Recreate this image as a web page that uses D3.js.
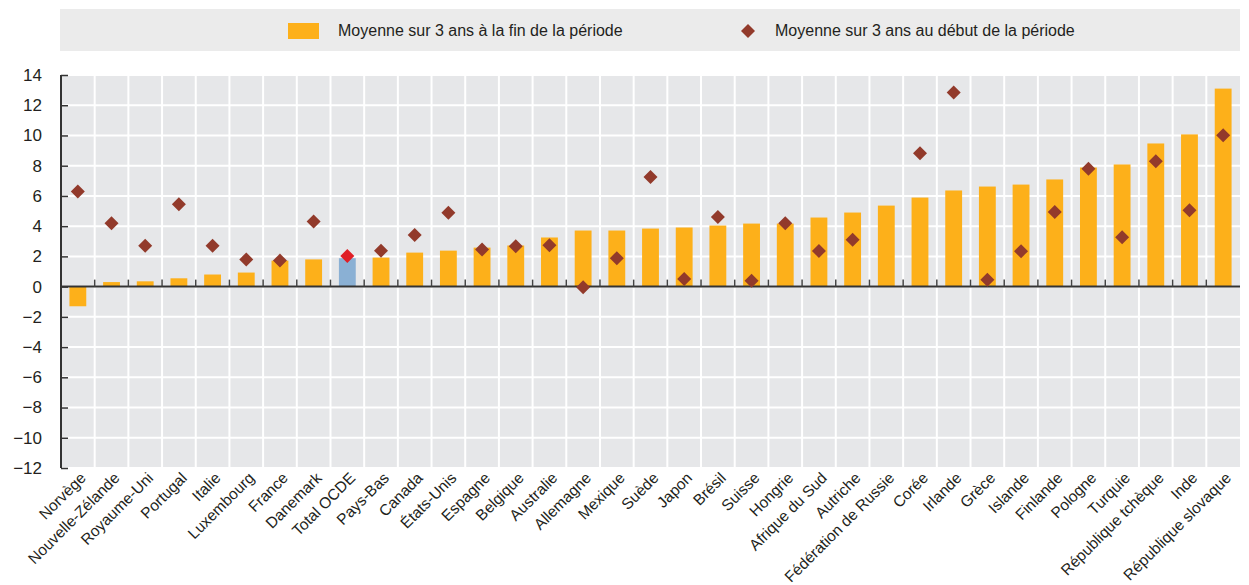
<!DOCTYPE html>
<meta charset="utf-8">
<script src="https://d3js.org/d3.v7.min.js"></script>
<style>
  body { margin: 0; background: #fff; }
  text { font-family: "Liberation Sans Narrow", "Arial Narrow", "Liberation Sans", sans-serif; fill: #231f20; }
</style>
<div id="my_dataviz"></div>
<script>

  // data
  var countries = ["Norvège","Nouvelle-Zélande","Royaume-Uni","Portugal","Italie","Luxembourg","France","Danemark","Total OCDE","Pays-Bas","Canada","États-Unis","Espagne","Belgique","Australie","Allemagne","Mexique","Suède","Japon","Brésil","Suisse","Hongrie","Afrique du Sud","Autriche","Fédération de Russie","Corée","Irlande","Grèce","Islande","Finlande","Pologne","Turquie","République tchèque","Inde","République slovaque"];
  var finPeriode = [-1.3,0.3,0.35,0.55,0.8,0.93,1.72,1.8,1.88,1.92,2.25,2.38,2.58,2.72,3.25,3.71,3.71,3.84,3.91,4.04,4.17,4.17,4.57,4.9,5.36,5.89,6.36,6.62,6.75,7.09,7.88,8.08,9.47,10.07,13.1];
  var debutPeriode = [6.3,4.2,2.7,5.45,2.7,1.8,1.72,4.3,2.03,2.38,3.42,4.88,2.45,2.67,2.74,-0.05,1.88,7.26,0.5,4.6,0.38,4.2,2.36,3.1,null,8.83,12.85,0.46,2.34,4.94,7.8,3.27,8.3,5.05,10.02];
  var yTicks = [-12,-10,-8,-6,-4,-2,0,2,4,6,8,10,12,14];
  var highlight = "Total OCDE";
  var legendLabels = ["Moyenne sur 3 ans à la fin de la période", "Moyenne sur 3 ans au début de la période"];

  var W = 1249, H = 585;
  var margin = {top: 75, right: 9, bottom: 117, left: 61},
    width = W - margin.left - margin.right,
    height = H - margin.top - margin.bottom;

  var svgRoot = d3.select("#my_dataviz")
    .append("svg")
      .attr("width", W)
      .attr("height", H);

  // legend box
  var legend = svgRoot.append("g");
  legend.append("rect")
    .attr("x", 60).attr("y", 9)
    .attr("width", 1180).attr("height", 42)
    .style("fill", "#ebebeb");
  legend.append("rect")
    .attr("x", 288).attr("y", 23)
    .attr("width", 31).attr("height", 16)
    .style("fill", "#fdb01a");
  legend.append("text")
    .attr("x", 338).attr("y", 36)
    .style("font-size", "16px")
    .text(legendLabels[0]);
  legend.append("path")
    .attr("d", d3.symbol().type(d3.symbolSquare).size(98))
    .attr("transform", "translate(748,31) rotate(45)")
    .style("fill", "#923a2b");
  legend.append("text")
    .attr("x", 775).attr("y", 36)
    .style("font-size", "16px")
    .text(legendLabels[1]);

  var svg = svgRoot.append("g")
    .attr("transform", "translate(" + margin.left + "," + margin.top + ")");

  var x = d3.scaleBand()
    .range([0, width])
    .domain(countries)
    .paddingInner(0.5)
    .paddingOuter(0.25);

  var y = d3.scaleLinear()
    .domain([-12, 14])
    .range([height, 0]);

  // plot background
  svg.append("rect")
    .attr("width", width)
    .attr("height", height)
    .style("fill", "#e6e7e9");

  // horizontal grid
  svg.selectAll(".hgrid")
    .data(yTicks)
    .enter()
    .append("line")
      .attr("x1", 0).attr("x2", width)
      .attr("y1", function(d){ return y(d); })
      .attr("y2", function(d){ return y(d); })
      .style("stroke", "#fff")
      .style("stroke-width", 2);

  // vertical grid at band boundaries
  var bounds = d3.range(1, countries.length);
  svg.selectAll(".vgrid")
    .data(bounds)
    .enter()
    .append("line")
      .attr("x1", function(d){ return d * x.step(); })
      .attr("x2", function(d){ return d * x.step(); })
      .attr("y1", 0).attr("y2", height)
      .style("stroke", "#fff")
      .style("stroke-width", 2);

  // bars
  svg.selectAll(".bar")
    .data(countries)
    .enter()
    .append("rect")
      .attr("x", function(d){ return x(d); })
      .attr("y", function(d, i){ return y(Math.max(0, finPeriode[i])); })
      .attr("width", x.bandwidth())
      .attr("height", function(d, i){ return Math.abs(y(finPeriode[i]) - y(0)); })
      .style("fill", function(d){ return d === highlight ? "#8ab0d4" : "#fdb01a"; });

  // zero line with upward ticks
  svg.append("line")
    .attr("x1", 0).attr("x2", width)
    .attr("y1", y(0)).attr("y2", y(0))
    .style("stroke", "#333")
    .style("stroke-width", 2);
  svg.selectAll(".ztick")
    .data(bounds)
    .enter()
    .append("line")
      .attr("x1", function(d){ return d * x.step(); })
      .attr("x2", function(d){ return d * x.step(); })
      .attr("y1", y(0) - 7).attr("y2", y(0))
      .style("stroke", "#444")
      .style("stroke-width", 1.5);

  // y axis
  var yAxis = svg.append("g")
    .call(d3.axisLeft(y)
      .tickValues(yTicks)
      .tickSize(-7)
      .tickPadding(19)
      .tickFormat(function(d){ return d < 0 ? "\u2212" + Math.abs(d) : d; }));
  yAxis.select(".domain")
    .attr("d", "M0," + y(14) + "V" + y(-12))
    .style("stroke", "#333")
    .style("stroke-width", 2);
  yAxis.selectAll(".tick line").style("stroke", "#333").style("stroke-width", 1.5);
  yAxis.selectAll("text")
    .style("font-size", "17px")
    .style("font-family", "'Liberation Sans Narrow', 'Arial Narrow', sans-serif")
    .attr("fill", "#231f20");

  // x labels
  svg.selectAll(".xlab")
    .data(countries)
    .enter()
    .append("text")
      .attr("text-anchor", "end")
      .attr("transform", function(d){
        return "translate(" + (x(d) + x.bandwidth() / 2 + 9) + "," + (height + 11) + ") rotate(-45)";
      })
      .style("font-size", "15.5px")
      .text(function(d){ return d; });

  // diamonds
  svg.selectAll(".dot")
    .data(countries.filter(function(d, i){ return debutPeriode[i] !== null; }))
    .enter()
    .append("path")
      .attr("d", d3.symbol().type(d3.symbolSquare).size(98))
      .attr("transform", function(d){
        var i = countries.indexOf(d);
        return "translate(" + (x(d) + x.bandwidth() / 2) + "," + y(debutPeriode[i]) + ") rotate(45)";
      })
      .style("fill", function(d){ return d === highlight ? "#e01e26" : "#923a2b"; });

</script>
